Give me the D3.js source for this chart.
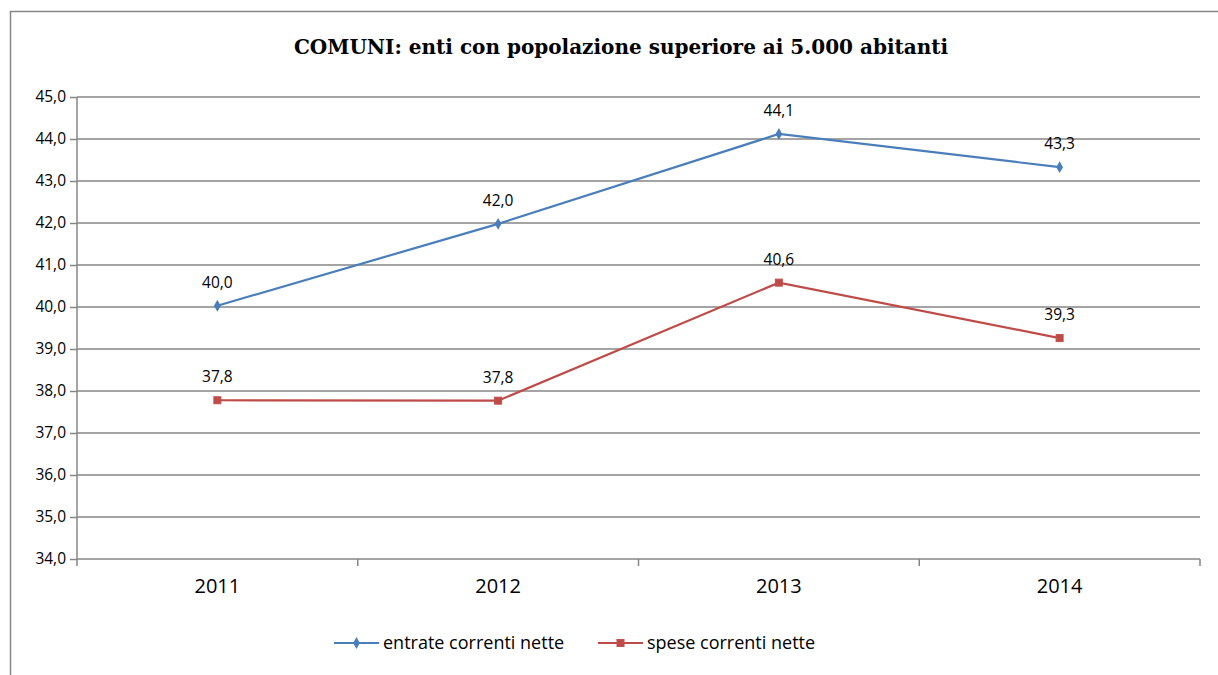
<!DOCTYPE html>
<html>
<head>
<meta charset="utf-8">
<style>
  body { margin: 0; background: #fff; }
  .tick text { font-family: "Open Sans", "Noto Sans", sans-serif; font-size: 15.5px; fill: #000; }
  .title { font-family: "DejaVu Serif", "Liberation Serif", serif; font-size: 20px; font-weight: bold; }
  .lbl { font-family: "Open Sans", "Noto Sans", sans-serif; font-size: 15.5px; }
  .leg { font-family: "Open Sans", "Noto Sans", sans-serif; font-size: 18px; }
</style>
<script src="https://d3js.org/d3.v7.min.js"></script>
</head>
<body>
<div id="chart"></div>
<script>
// data
var years = ["2011", "2012", "2013", "2014"];
var entrate = [40.03, 41.98, 44.12, 43.33];
var spese = [37.78, 37.77, 40.58, 39.26];
var seriesNames = ["entrate correnti nette", "spese correnti nette"];
var yTicks = [34, 35, 36, 37, 38, 39, 40, 41, 42, 43, 44, 45];

var W = 1218, H = 675;
var margin = {top: 97, right: 18, bottom: 116, left: 77};
var width = W - margin.left - margin.right,
    height = H - margin.top - margin.bottom;

var svg = d3.select("#chart").append("svg")
  .attr("width", W).attr("height", H);

// outer border
svg.append("rect")
  .attr("x", 10.5).attr("y", 11.5)
  .attr("width", W + 20).attr("height", H + 20)
  .attr("fill", "none").attr("stroke", "#868686").attr("stroke-width", 1.5);

svg.append("text")
  .attr("class", "title")
  .attr("x", 621).attr("y", 54)
  .attr("text-anchor", "middle")
  .text("COMUNI: enti con popolazione superiore ai 5.000 abitanti");

var g = svg.append("g")
  .attr("transform", "translate(" + margin.left + "," + margin.top + ")");

var x = d3.scaleBand().domain(years).range([0, width]);
var y = d3.scaleLinear().domain([34, 45]).range([height, 0]);

// gridlines
g.selectAll(".grid")
  .data(yTicks.slice(1))
  .enter().append("line")
    .attr("x1", 0).attr("x2", width)
    .attr("y1", function(d) { return y(d); })
    .attr("y2", function(d) { return y(d); })
    .attr("stroke", "#868686").attr("stroke-width", 1.5);

// y axis
var yAxis = g.append("g")
  .call(d3.axisLeft(y).tickValues(yTicks).tickSize(7).tickPadding(4)
    .tickFormat(function(d) { return d3.format(".1f")(d).replace(".", ","); }));
yAxis.selectAll("line, path").attr("stroke", "#868686").attr("stroke-width", 1.5);
yAxis.select(".domain").attr("d", "M0," + height + "V0");

// x axis
var xAxis = g.append("g")
  .attr("transform", "translate(0," + height + ")")
  .call(d3.axisBottom(x).tickSize(0).tickPadding(20));
xAxis.select(".domain").attr("stroke", "#868686").attr("stroke-width", 1.5)
  .attr("d", "M0,0H" + width);
xAxis.selectAll(".tick text").style("font-size", "20px");

// category separators
g.selectAll(".sep")
  .data(years.concat(["end"]))
  .enter().append("line")
    .attr("x1", function(d, i) { return i * x.step(); })
    .attr("x2", function(d, i) { return i * x.step(); })
    .attr("y1", height).attr("y2", height + 7)
    .attr("stroke", "#868686").attr("stroke-width", 1.5);

var cx = function(d, i) { return x(years[i]) + x.bandwidth() / 2; };

var series = [
  {name: seriesNames[0], values: entrate, color: "#4a7ebb", marker: "diamond"},
  {name: seriesNames[1], values: spese, color: "#be4b48", marker: "square"}
];

var line = d3.line()
  .x(function(d, i) { return cx(d, i); })
  .y(function(d) { return y(d); });

function drawMarker(sel, s, px, py) {
  if (s.marker === "diamond") {
    sel.append("path")
      .attr("d", d3.symbol().type(d3.symbolDiamond).size(40)())
      .attr("transform", "translate(" + px + "," + py + ")")
      .attr("fill", s.color);
  } else {
    sel.append("rect")
      .attr("x", px - 3.5).attr("y", py - 3.5)
      .attr("width", 7).attr("height", 7)
      .attr("fill", s.color).attr("stroke", "#c0504d").attr("stroke-width", 1);
  }
}

series.forEach(function(s) {
  g.append("path")
    .datum(s.values)
    .attr("d", line)
    .attr("fill", "none")
    .attr("stroke", s.color)
    .attr("stroke-width", 2.2);
  s.values.forEach(function(v, i) {
    drawMarker(g, s, cx(v, i), y(v));
    g.append("text")
      .attr("class", "lbl")
      .attr("x", cx(v, i))
      .attr("y", y(v) - 18)
      .attr("text-anchor", "middle")
      .text(d3.format(".1f")(v).replace(".", ","));
  });
});

// legend
var legX = [334, 598];
series.forEach(function(s, i) {
  var lg = svg.append("g");
  lg.append("line")
    .attr("x1", legX[i]).attr("x2", legX[i] + 45)
    .attr("y1", 643).attr("y2", 643)
    .attr("stroke", s.color).attr("stroke-width", 2.2);
  drawMarker(lg, s, legX[i] + 22.5, 643);
  lg.append("text")
    .attr("class", "leg")
    .attr("x", legX[i] + 49).attr("y", 649)
    .text(s.name);
});
</script>
</body>
</html>
